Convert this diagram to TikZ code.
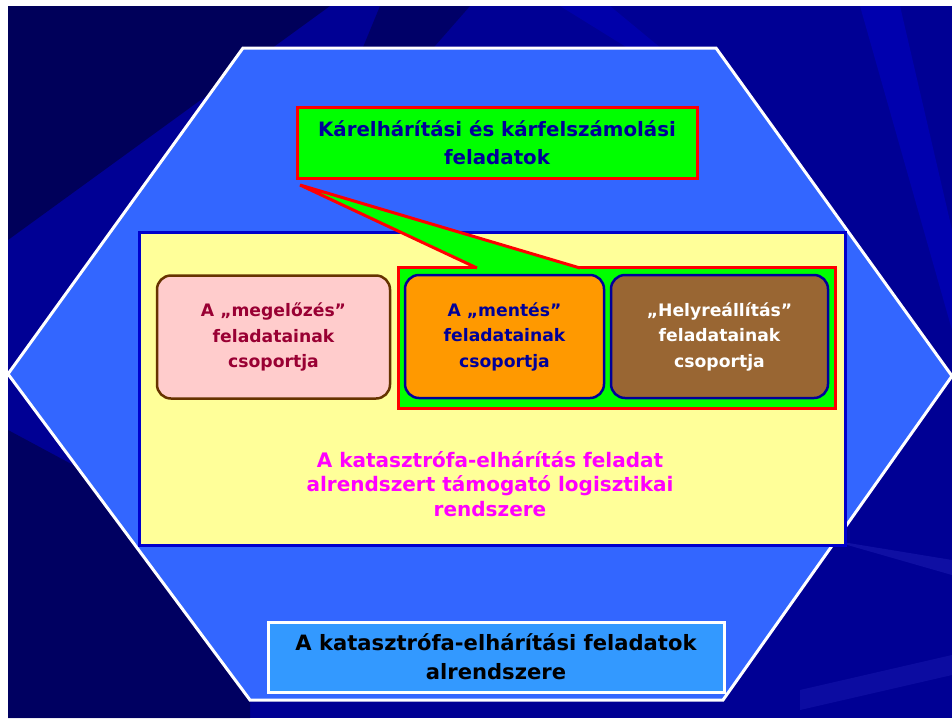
\documentclass[tikz,border=0pt]{standalone}
\usepackage{fontspec}
\setmainfont{DejaVu Sans}
\usepackage{tikz}
\usetikzlibrary{calc}
\usetikzlibrary{positioning}

\definecolor{navy}{HTML}{000094}
\definecolor{deepnavy}{HTML}{00004C}
\definecolor{hexblue}{HTML}{3366FF}
\definecolor{paleyellow}{HTML}{FFFF99}
\definecolor{framblue}{HTML}{0000CC}
\definecolor{darktext}{HTML}{000099}
\definecolor{pinkfill}{HTML}{FFCCCC}
\definecolor{pinkline}{HTML}{663300}
\definecolor{wine}{HTML}{990033}
\definecolor{orangefill}{HTML}{FF9900}
\definecolor{brownfill}{HTML}{996633}
\definecolor{labelblue}{HTML}{3399FF}
\definecolor{lilac}{HTML}{FF00FF}
\definecolor{callgreen}{HTML}{00FF00}
\definecolor{callred}{HTML}{FF0000}

\tikzset{
  groupbox/.style={rectangle, rounded corners=14pt, line width=2.5pt, minimum height=123pt,
    align=center, font=\fontsize{17.2}{25.5}\selectfont\bfseries},
}

\begin{document}
\begin{tikzpicture}[x=1pt,y=-1pt]
				\useasboundingbox (0,0) rectangle (952,718);
				\fill[white] (0,0) rectangle (952,718);
				\fill[navy] (8,6) rectangle (952,718);
				
				% background streaks
				\fill[deepnavy, opacity=0.8] (8,6) -- (330,6) -- (8,240) -- cycle;
				\fill[deepnavy, opacity=0.7] (8,430) -- (250,560) -- (250,718) -- (8,718) -- cycle;
				\fill[deepnavy, opacity=0.6] (380,6) -- (470,6) -- (300,200) -- cycle;
				\fill[blue!70!navy, opacity=0.35] (860,6) -- (900,6) -- (952,230) -- (952,330) -- cycle;
				\fill[blue!70!navy, opacity=0.3] (560,6) -- (610,6) -- (760,130) -- cycle;
				\fill[blue!60!white, opacity=0.15] (830,540) -- (952,560) -- (952,575) -- cycle;
				\fill[blue!60!white, opacity=0.12] (800,690) -- (952,655) -- (952,675) -- (800,710) -- cycle;
				
				% hexagon
				\coordinate (h1) at (243,48);
				\coordinate (h2) at (716,48);
				\coordinate (h3) at (952,376);
				\coordinate (h4) at (723,700);
				\coordinate (h5) at (250,700);
				\coordinate (h6) at (8,374);
				\filldraw[fill=hexblue, draw=white, line width=3pt, line join=miter]
				  (h1) -- (h2) -- (h3) -- (h4) -- (h5) -- (h6) -- cycle;
				
				\node[rectangle, draw=framblue, fill=paleyellow, line width=3pt, minimum width=706pt, minimum height=313pt] (support) at (492,388.5) {};
				\node[rectangle, draw=callred, fill=callgreen, line width=3pt, minimum width=437pt, minimum height=141pt] (active) at (616.5,337.5) {};
				
				% callout pointer
				\coordinate (tip) at (300,185);
				\coordinate (baseL) at (477,268);
				\coordinate (baseR) at (580,268);
				\fill[callgreen] (tip) -- (baseR) -- ($(baseR)+(0,3)$) -- ($(baseL)+(0,3)$) -- (baseL) -- cycle;
				\draw[callred, line width=3pt, line join=miter] (baseL) -- (tip) -- (baseR);
				
				\node[rectangle, draw=callred, fill=callgreen, line width=3pt, minimum width=400pt, minimum height=71pt,
				  align=center, text=darktext, font=\fontsize{19.8}{28.5}\selectfont\bfseries] (callout) at (497,142.5)
				  {Kárelhárítási és kárfelszámolási\\feladatok};
				
				\node[groupbox, draw=pinkline, fill=pinkfill, text=wine, minimum width=233pt] (prevent) at (273.5,337) {A „megelőzés”\\feladatainak\\csoportja};
				\node[groupbox, draw=darktext, fill=orangefill, text=darktext, minimum width=199pt] (rescue) at (504.5,336.5) {A „mentés”\\feladatainak\\csoportja};
				\node[groupbox, draw=darktext, fill=brownfill, text=white, minimum width=217pt] (restore) at (719.5,336.5) {„Helyreállítás”\\feladatainak\\csoportja};
				
				\node[align=center, text=lilac, font=\fontsize{20}{24.5}\selectfont\bfseries] (logistics) at (490,484) {A katasztrófa-elhárítás feladat\\alrendszert támogató logisztikai\\rendszere};
				
				\node[rectangle, draw=white, fill=labelblue, line width=3pt, minimum width=456pt, minimum height=70pt,
				  align=center, text=black, font=\fontsize{21.1}{29}\selectfont\bfseries] (subsystem) at (496,657)
				  {A katasztrófa-elhárítási feladatok\\alrendszere};
			\end{tikzpicture}
\end{document}
